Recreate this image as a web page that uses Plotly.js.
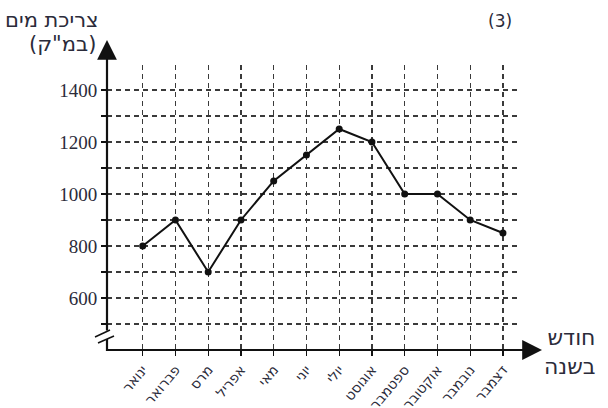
<!DOCTYPE html>
<html>
<head>
<meta charset="utf-8">
<script src="https://cdn.plot.ly/plotly-3.0.1.min.js"></script>
<style>html,body{margin:0;padding:0;background:#fff;}#chart{width:608px;height:408px;}</style>
</head>
<body>
<div id="chart"></div>
<script>
const months = ["ינואר","פברואר","מרס","אפריל","מאי","יוני","יולי","אוגוסט","ספטמבר","אוקטובר","נובמבר","דצמבר"];
const consumption = [800, 900, 700, 900, 1050, 1150, 1250, 1200, 1000, 1000, 900, 850];
const yTickVals = [500, 600, 700, 800, 900, 1000, 1100, 1200, 1300, 1400];
const yTickText = ["", "600", "", "800", "", "1000", "", "1200", "", "1400"];
const yTitle1 = "צריכת מים";
const yTitle2 = "(במ\"ק)";
const xTitle1 = "חודש";
const xTitle2 = "בשנה";
const panelLabel = "(3)";

// geometry helpers (pixel -> paper)
const L = 107, T = 65, W = 411, H = 285;
const px = p => (p - L) / W;
const py = p => (T + H - p) / H;

const textColor = "#2b2b3a";
const hebFont = "DejaVu Sans, Liberation Sans, sans-serif";

const trace = {
  x: months,
  y: consumption,
  type: "scatter",
  mode: "lines+markers",
  line: {color: "#111", width: 2},
  marker: {color: "#111", size: 7},
  cliponaxis: false,
  hoverinfo: "none"
};

const layout = {
  width: 608, height: 408,
  margin: {l: L, r: 608 - L - W, t: T, b: 408 - T - H, pad: 0},
  paper_bgcolor: "#fff", plot_bgcolor: "#fff",
  showlegend: false,
  xaxis: {
    type: "category",
    range: [-1.09, 11.46],
    showgrid: true, gridcolor: "#3a3a3a", gridwidth: 1.3, griddash: "5px,4px",
    showline: false, zeroline: false,
    ticks: "outside", ticklen: 5, tickwidth: 1.3, tickcolor: "#111",
    tickangle: -50,
    tickfont: {family: hebFont, size: 14, color: textColor}
  },
  yaxis: {
    range: [400, 1496],
    tickmode: "array", tickvals: yTickVals, ticktext: yTickText,
    showgrid: true, gridcolor: "#3a3a3a", gridwidth: 1.3, griddash: "5px,4px",
    showline: false, zeroline: false,
    ticks: "outside", ticklen: 5, tickwidth: 1.3, tickcolor: "#111",
    tickfont: {family: "Liberation Serif, Times New Roman, serif", size: 19, color: textColor}
  },
  shapes: [
    {type: "line", xref: "paper", yref: "paper", x0: px(106), x1: px(520), y0: 0, y1: 0, line: {color: "#111", width: 2.2}},
    {type: "line", xref: "paper", yref: "paper", x0: 0, x1: 0, y0: py(351), y1: py(339), line: {color: "#111", width: 2.2}},
    {type: "line", xref: "paper", yref: "paper", x0: px(95), x1: px(110), y0: py(337), y1: py(330), line: {color: "#111", width: 1.5}},
    {type: "line", xref: "paper", yref: "paper", x0: px(98), x1: px(114), y0: py(343), y1: py(336), line: {color: "#111", width: 1.5}}
  ],
  annotations: [
    {xref: "paper", yref: "paper", x: 0, y: py(40), ax: 0, ay: 292, axref: "pixel", ayref: "pixel",
     text: "", showarrow: true, arrowhead: 2, arrowsize: 1.8, arrowwidth: 2.2, arrowcolor: "#111"},
    {xref: "paper", yref: "paper", x: px(542), y: 0, ax: -60, ay: 0, axref: "pixel", ayref: "pixel",
     text: "", showarrow: true, arrowhead: 2, arrowsize: 1.8, arrowwidth: 2.2, arrowcolor: "#111"},
    {xref: "paper", yref: "paper", x: px(101), y: py(20), xanchor: "right", yanchor: "middle",
     text: yTitle1, showarrow: false, font: {family: hebFont, size: 21, color: textColor}},
    {xref: "paper", yref: "paper", x: px(98), y: py(44), xanchor: "right", yanchor: "middle",
     text: yTitle2, showarrow: false, font: {family: hebFont, size: 21, color: textColor}},
    {xref: "paper", yref: "paper", x: px(598), y: py(352), xanchor: "right", yanchor: "middle", align: "right",
     text: xTitle1 + "<br>" + xTitle2, showarrow: false, font: {family: hebFont, size: 22, color: textColor}},
    {xref: "paper", yref: "paper", x: px(500), y: py(21), xanchor: "center", yanchor: "middle",
     text: panelLabel, showarrow: false, font: {family: "DejaVu Sans, sans-serif", size: 17, color: textColor}}
  ]
};

Plotly.newPlot("chart", [trace], layout, {staticPlot: true, displayModeBar: false});
</script>
</body>
</html>
